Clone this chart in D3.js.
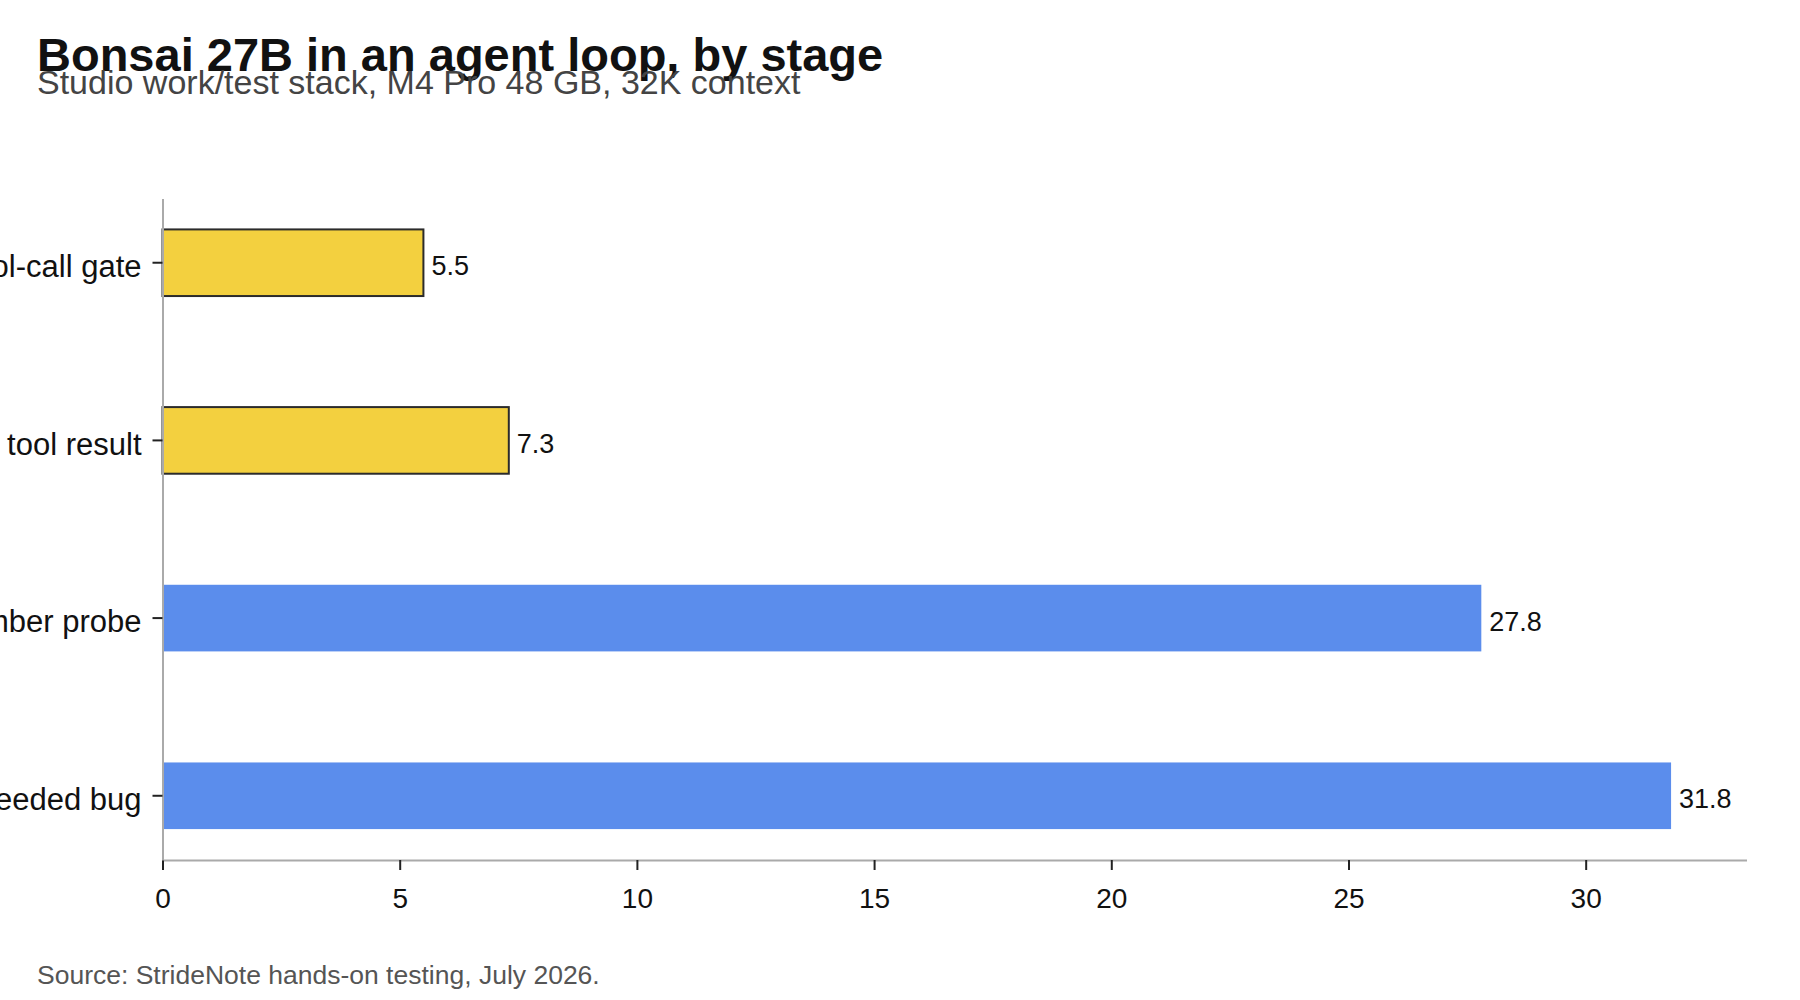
<!DOCTYPE html>
<html>
<head>
<meta charset="utf-8">
<script src="https://cdn.jsdelivr.net/npm/d3@7"></script>
<style>
  html, body { margin: 0; padding: 0; background: #fff; }
  svg { display: block; font-family: "Liberation Sans", Arial, Helvetica, sans-serif; }
</style>
</head>
<body>
<svg id="chart" width="1800" height="1000"></svg>
<script>
// ---- data ----
const categories = ["Stage 1: first tool-call gate", "Stage 2: read the tool result", "Stage 3: line-number probe", "Stage 4: fix seeded bug"];
const values = [5.5, 7.3, 27.8, 31.8];
const groups = ["gate", "gate", "task", "task"];
const xTicks = [0, 5, 10, 15, 20, 25, 30];
const titleText = "Bonsai 27B in an agent loop, by stage";
const subtitleText = "Studio work/test stack, M4 Pro 48 GB, 32K context";
const sourceText = "Source: StrideNote hands-on testing, July 2026.";

const fillColor = { gate: "#F3D03F", task: "#5B8DEC" };
const strokeColor = { gate: "#2b2b2b", task: "none" };

const svg = d3.select("#chart");
const margin = { left: 162.5, right: 1746.5, top: 198.5, bottom: 860 };

const x = d3.scaleLinear().domain([0, d3.max(values) * 1.05]).range([margin.left, margin.right]);
const y = d3.scaleBand().domain(categories).range([margin.top, margin.bottom]).paddingInner(0.625).paddingOuter(0.174);

// bars
svg.append("g").selectAll("rect").data(categories).join("rect")
  .attr("x", x(0))
  .attr("y", d => y(d))
  .attr("width", (d, i) => x(values[i]) - x(0))
  .attr("height", y.bandwidth())
  .attr("fill", (d, i) => fillColor[groups[i]])
  .attr("stroke", (d, i) => strokeColor[groups[i]])
  .attr("stroke-width", 2);

// value labels
svg.append("g").selectAll("text").data(categories).join("text")
  .attr("x", (d, i) => x(values[i]) + 8)
  .attr("y", d => y(d) + y.bandwidth() / 2)
  .attr("dy", "0.46em")
  .attr("font-size", 27)
  .attr("fill", "#111")
  .text((d, i) => values[i]);

// x axis
const xAxis = svg.append("g").attr("transform", `translate(0,${margin.bottom})`)
  .call(d3.axisBottom(x).tickValues(xTicks).tickFormat(d3.format("d")).tickSize(10).tickPadding(18).tickSizeOuter(0));
xAxis.select(".domain").attr("stroke", "#aaa").attr("stroke-width", 2);
xAxis.selectAll(".tick line").attr("stroke", "#222").attr("stroke-width", 2);
xAxis.selectAll(".tick text").attr("font-size", 28).attr("fill", "#111").attr("font-family", null);

// y axis
const yAxis = svg.append("g").attr("transform", `translate(${margin.left},0)`)
  .call(d3.axisLeft(y).tickSize(10).tickPadding(11).tickSizeOuter(0));
yAxis.select(".domain").attr("stroke", "#aaa").attr("stroke-width", 2);
yAxis.selectAll(".tick line").attr("stroke", "#222").attr("stroke-width", 2);
yAxis.selectAll(".tick text").attr("font-size", 31).attr("fill", "#111").attr("dy", "0.46em").attr("font-family", null);

// titles
svg.append("text").attr("x", 37).attr("y", 71).attr("font-size", 47).attr("font-weight", "bold").attr("fill", "#111").text(titleText);
svg.append("text").attr("x", 37).attr("y", 94).attr("font-size", 34).attr("fill", "#444").text(subtitleText);
svg.append("text").attr("x", 37).attr("y", 984).attr("font-size", 26.5).attr("fill", "#555").text(sourceText);
</script>
</body>
</html>
